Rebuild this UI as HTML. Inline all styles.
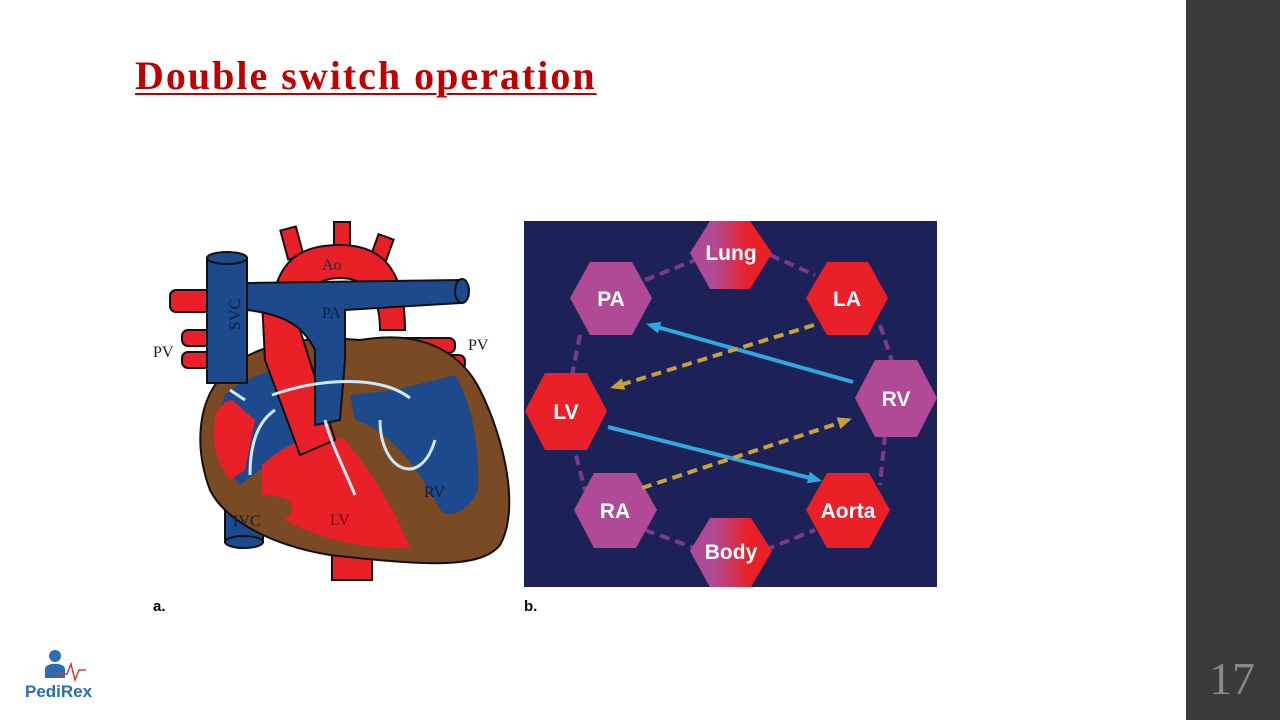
<!DOCTYPE html>
<html><head><meta charset="utf-8"><style>
body{margin:0;width:1280px;height:720px;background:#fff;position:relative;overflow:hidden;font-family:"Liberation Serif",serif}
.title{position:absolute;left:135px;top:53px;font-size:40px;line-height:46px;letter-spacing:2px;font-weight:bold;color:#c00000;text-decoration:underline;text-decoration-thickness:2px;text-underline-offset:4px;white-space:nowrap}
.side{position:absolute;left:1186px;top:0;width:94px;height:720px;background:#3a3a3a}
.num{position:absolute;left:1209px;top:652px;font-size:46px;color:#8a8a8a}
</style></head><body>
<div class="title">Double switch operation</div>
<div class="side"></div><div class="num">17</div>

<svg width="1280" height="720" style="position:absolute;left:0;top:0">
<defs>
<linearGradient id="g" x1="0" x2="1"><stop offset="0.3" stop-color="#b04a96"/><stop offset="0.7" stop-color="#ea2029"/></linearGradient>
<marker id="ab" markerWidth="14" markerHeight="14" refX="10" refY="7" orient="auto" markerUnits="userSpaceOnUse"><path d="M0,1 L14,7 L0,13z" fill="#2fa8e0"/></marker>
<marker id="ag" markerWidth="14" markerHeight="14" refX="10" refY="7" orient="auto" markerUnits="userSpaceOnUse"><path d="M0,1 L14,7 L0,13z" fill="#c9a13a"/></marker>
</defs>
<rect x="524" y="221" width="413" height="366" fill="#1c2257"/>
<g stroke="#7b3a8e" stroke-width="4" stroke-dasharray="10,6" fill="none">
<path d="M645,280 L700,258"/><path d="M770,255 L815,275"/>
<path d="M580,335 L570,385"/><path d="M880,325 L895,370"/>
<path d="M572,440 L585,490"/><path d="M885,435 L880,485"/>
<path d="M645,530 L700,550"/><path d="M765,550 L815,530"/>
</g>
<g font-family="Liberation Sans,sans-serif" font-weight="bold" font-size="21" fill="#fff" text-anchor="middle">
<polygon points="710,221 750,221 772,253 750,289 710,289 690,253" fill="url(#g)"/><text x="731" y="260">Lung</text>
<polygon points="590,262 632,262 652,298 632,335 590,335 570,298" fill="#b04a96"/><text x="611" y="306">PA</text>
<polygon points="827,262 868,262 888,298 868,335 827,335 806,298" fill="#ea2029"/><text x="847" y="306">LA</text>
<polygon points="545,373 587,373 607,411 587,450 545,450 525,411" fill="#ea2029"/><text x="566" y="419">LV</text>
<polygon points="875,360 917,360 937,398 917,437 875,437 855,398" fill="#b04a96"/><text x="896" y="406">RV</text>
<polygon points="594,473 636,473 657,510 636,548 594,548 574,510" fill="#b04a96"/><text x="615" y="518">RA</text>
<polygon points="827,473 869,473 890,510 869,548 827,548 806,510" fill="#ea2029"/><text x="848" y="518">Aorta</text>
<polygon points="710,518 751,518 772,551 751,587 710,587 690,551" fill="url(#g)"/><text x="731" y="559">Body</text>
</g>
<line x1="853" y1="382" x2="650" y2="325" stroke="#2fa8e0" stroke-width="4" marker-end="url(#ab)"/>
<line x1="608" y1="427" x2="818" y2="480" stroke="#2fa8e0" stroke-width="4" marker-end="url(#ab)"/>
<line x1="814" y1="325" x2="614" y2="387" stroke="#c9a13a" stroke-width="4" stroke-dasharray="10,6" marker-end="url(#ag)"/>
<line x1="642" y1="488" x2="848" y2="420" stroke="#c9a13a" stroke-width="4" stroke-dasharray="10,6" marker-end="url(#ag)"/>
<text x="524" y="611" font-family="Liberation Sans,sans-serif" font-weight="bold" font-size="15">b.</text>
<text x="153" y="611" font-family="Liberation Sans,sans-serif" font-weight="bold" font-size="15">a.</text>

<g stroke="#111" stroke-width="2">
<rect x="284" y="228" width="16" height="30" fill="#ea2029" transform="rotate(-15 292 243)"/>
<rect x="334" y="222" width="16" height="30" fill="#ea2029"/>
<rect x="373" y="236" width="16" height="30" fill="#ea2029" transform="rotate(20 381 251)"/>
<path d="M270,330 C270,260 300,245 340,245 C390,245 405,280 405,330 L380,330 C380,300 370,278 340,278 C310,278 300,300 300,330Z" fill="#ea2029"/>
<rect x="170" y="290" width="45" height="22" rx="6" fill="#ea2029"/>
<rect x="182" y="330" width="35" height="16" rx="6" fill="#ea2029"/>
<rect x="182" y="352" width="35" height="16" rx="6" fill="#ea2029"/>
<rect x="385" y="338" width="70" height="15" rx="6" fill="#ea2029"/>
<rect x="395" y="355" width="70" height="15" rx="6" fill="#ea2029"/>
<rect x="332" y="530" width="40" height="50" fill="#ea2029"/>
<rect x="225" y="480" width="38" height="62" fill="#1c4a8c"/>
<ellipse cx="244" cy="542" rx="19" ry="6" fill="#1c4a8c"/>
<path d="M215,385 C240,345 300,335 360,340 C420,330 460,350 480,390 C505,440 520,510 500,545 C480,570 420,565 330,555 C270,545 225,520 210,490 C195,450 198,410 215,385Z" fill="#7a4a24"/>
<path d="M225,395 C250,370 300,362 330,370 L330,440 L260,470 L240,485 C225,470 215,440 218,415Z" fill="#1c4a8c" stroke="none"/>
<path d="M215,420 C215,410 225,400 232,400 L255,420 L245,470 L230,480 C215,460 212,440 215,420Z" fill="#ea2029" stroke="none"/>
<path d="M262,465 C290,440 320,430 345,440 C370,470 395,510 410,548 C370,550 320,540 285,520 C300,505 290,495 262,495Z" fill="#ea2029" stroke="none"/>
<path d="M350,395 L395,390 L455,375 C470,400 480,440 478,490 C470,510 450,520 440,510 C420,470 390,430 355,420Z" fill="#1c4a8c" stroke="none"/>
<path d="M262,300 C280,290 295,300 300,330 L335,440 L300,455 L265,360Z" fill="#ea2029"/>
<path d="M247,283 L460,280 L460,303 L345,310 L345,360 L340,420 L315,425 L315,350 C305,330 290,315 247,310Z" fill="#1c4a8c"/>
<ellipse cx="462" cy="291" rx="7" ry="12" fill="#1c4a8c"/>
<rect x="207" y="258" width="40" height="125" fill="#1c4a8c"/>
<ellipse cx="227" cy="258" rx="20" ry="6" fill="#1c4a8c"/>
</g>
<g fill="none" stroke="#cfe8f5" stroke-width="3">
<path d="M272,395 C320,378 380,375 410,398"/>
<path d="M250,475 C250,440 260,420 275,410"/>
<path d="M355,495 C340,460 330,440 325,420"/>
<path d="M380,420 C380,470 420,490 435,440"/>
<path d="M230,390 L245,400"/>
</g>
<g font-family="Liberation Serif,serif" font-size="16" fill="#1a1a1a">
<text x="153" y="357">PV</text><text x="468" y="350">PV</text>
<text x="322" y="270" fill="#1c2a5a">Ao</text><text x="322" y="318" fill="#0d1d40">PA</text>
<text x="424" y="497" fill="#0d1d40">RV</text><text x="330" y="525" fill="#7a0000">LV</text>
<text x="233" y="526" fill="#0d1d40">IVC</text>
<text x="0" y="0" fill="#0d1d40" transform="translate(240,330) rotate(-90)">SVC</text>
</g>

<circle cx="55" cy="656" r="6" fill="#2a6db5"/>
<path d="M45,678 L45,669 C45,662 65,662 65,669 L65,678Z" fill="#2a6db5"/>
<path d="M56,674 L67,674 L71,664 L75,680 L79,670 L86,670" stroke="#e0303a" stroke-width="1.5" fill="none"/>
<text x="25" y="697" font-family="Liberation Sans,sans-serif" font-weight="bold" font-size="17" fill="#2a6db5">PediRex</text>
</svg>
</body></html>
